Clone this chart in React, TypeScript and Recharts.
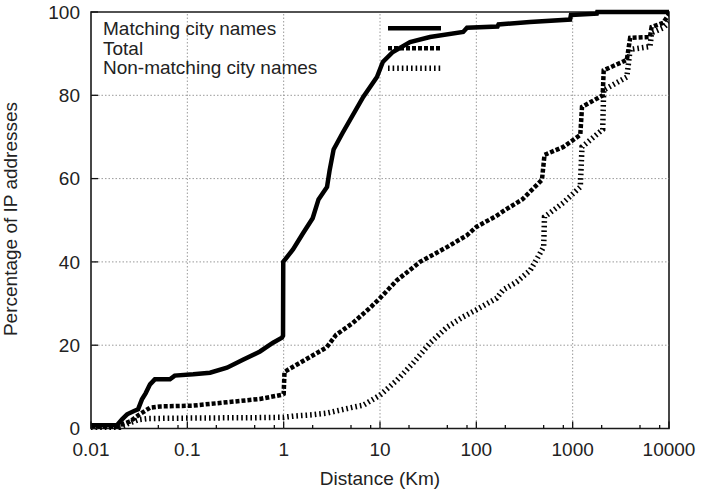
import React from "react";
import { LineChart, Line, XAxis, YAxis, ReferenceLine, ReferenceArea } from "recharts";

const FONT = "'Liberation Sans', Arial, Helvetica, sans-serif";

// Distance (Km) / percentage pairs
const matchingDist = [0.01, 0.0186, 0.021, 0.0237, 0.028, 0.0308, 0.0338, 0.037, 0.041, 0.046, 0.066, 0.074, 0.115, 0.172, 0.258, 0.378, 0.568, 0.776, 0.96, 0.985, 0.99, 1.25, 1.6, 2.0, 2.3, 2.82, 3.0, 3.3, 4.1, 6.7, 9.3, 10.7, 13.6, 20.5, 33, 73, 80, 166, 170, 360, 940, 960, 1780, 1800, 10000];
const matchingPct = [0.8, 0.8, 2.2, 3.4, 4.2, 4.6, 7.0, 8.5, 10.6, 11.8, 11.8, 12.7, 13.0, 13.4, 14.6, 16.5, 18.5, 20.6, 21.8, 22.3, 40, 43, 47, 50.5, 55, 58, 62, 67, 71, 79.6, 84.4, 88, 90.4, 92.8, 94, 95.2, 96.2, 96.5, 97, 97.6, 98.2, 99.3, 99.6, 100, 100];

const totalDist = [0.01, 0.0186, 0.021, 0.0254, 0.032, 0.041, 0.052, 0.115, 0.258, 0.568, 0.96, 1.0, 1.02, 1.48, 2.8, 3.5, 5.2, 7.9, 10, 15, 26, 50, 80, 100, 160, 200, 300, 480, 510, 800, 1200, 1250, 2050, 2100, 3650, 3950, 6350, 6600, 8700, 10000];
const totalPct = [0.5, 0.5, 1.0, 1.7, 3.4, 5.0, 5.3, 5.5, 6.3, 7.1, 8.1, 8.3, 13.6, 15.8, 19.5, 22.5, 25.3, 29, 31.3, 35.6, 40, 43.6, 46.4, 48.4, 51, 52.5, 55, 59.7, 65.7, 67.6, 70.5, 77.2, 80, 86, 88.5, 93.8, 94, 96.4, 97.4, 99.5];

const nonMatchingDist = [0.01, 0.02, 0.023, 0.027, 0.031, 0.04, 0.1, 0.5, 1.0, 1.3, 2.0, 2.8, 5.0, 6.7, 10, 15, 22, 33, 50, 73, 100, 163, 190, 263, 363, 420, 500, 510, 800, 1200, 1250, 2050, 2100, 3650, 3950, 6350, 6600, 8700, 10000];
const nonMatchingPct = [0.3, 0.3, 1.0, 1.6, 2.1, 2.4, 2.5, 2.6, 2.7, 3.0, 3.3, 3.7, 5.0, 5.6, 8.0, 11.6, 15.7, 20.5, 24.4, 26.8, 28.5, 31.3, 33.3, 35.2, 38, 40.5, 43.6, 50.8, 54.2, 58, 67.6, 71.8, 81.3, 84.4, 91, 91.7, 95, 96.2, 97.5];

const seriesNames = ["Matching city names", "Total", "Non-matching city names"];

const xMajorTicks = [0.01, 0.1, 1, 10, 100, 1000, 10000];
const xTickLabels = ["0.01", "0.1", "1", "10", "100", "1000", "10000"];
const xMinorFactors = [2, 5, 8];
const yTicks = [0, 20, 40, 60, 80, 100];
const xGrid = [0.1, 1, 10, 100, 1000];
const yGrid = [20, 40, 60, 80];

const toPoints = (xs: number[], ys: number[]) => xs.map((x, i) => ({ x, y: ys[i] }));
const matchingData = toPoints(matchingDist, matchingPct);
const totalData = toPoints(totalDist, totalPct);
const nonMatchingData = toPoints(nonMatchingDist, nonMatchingPct);

const allXTicks: number[] = [];
xMajorTicks.forEach((t, i) => {
  allXTicks.push(t);
  if (i < xMajorTicks.length - 1) xMinorFactors.forEach((f) => allXTicks.push(t * f));
});

const styles = [
  { strokeWidth: 4.5, dash: undefined as string | undefined },
  { strokeWidth: 4.5, dash: "4 2" },
  { strokeWidth: 5.5, dash: "1.6 3" },
];

const XTick = (props: any) => {
  const { x, y, payload } = props;
  const v = payload.value;
  const idx = xMajorTicks.findIndex((t) => Math.abs(t - v) / t < 1e-6);
  const major = idx >= 0;
  return (
    <g>
      <line x1={x} x2={x} y1={y} y2={y - (major ? 7 : 3.5)} stroke="#111" strokeWidth={1.3} />
      {major && (
        <text x={x} y={y + 27.5} textAnchor="middle" fontSize={19} fontFamily={FONT} fill="#222">
          {xTickLabels[idx]}
        </text>
      )}
    </g>
  );
};

const YTick = (props: any) => {
  const { x, y, payload } = props;
  return (
    <g>
      <line x1={x} x2={x + 7} y1={y} y2={y} stroke="#111" strokeWidth={1.3} />
      <text x={x - 11} y={y} dy="0.35em" textAnchor="end" fontSize={19} fontFamily={FONT} fill="#222">
        {payload.value}
      </text>
    </g>
  );
};

export default function App() {
  return (
    <div style={{ position: "absolute", left: 0, top: 0, width: 705, height: 489, background: "#fff" }}>
      <LineChart width={705} height={489} margin={{ top: 12, right: 36, bottom: 0, left: 0 }}>
        <XAxis
          dataKey="x"
          type="number"
          scale="log"
          domain={[0.01, 10000]}
          ticks={allXTicks}
          interval={0}
          allowDataOverflow
          height={60.5}
          tickSize={0}
          tickMargin={0}
          tickLine={false}
          axisLine={false}
          tick={<XTick />}
        />
        <YAxis
          type="number"
          domain={[0, 100]}
          ticks={yTicks}
          interval={0}
          width={91}
          tickSize={0}
          tickMargin={0}
          tickLine={false}
          axisLine={false}
          tick={<YTick />}
        />
        {xGrid.map((v) => (
          <ReferenceLine key={"gx" + v} x={v} stroke="#9a9a9a" strokeWidth={1} strokeDasharray="1.5 2" />
        ))}
        {yGrid.map((v) => (
          <ReferenceLine key={"gy" + v} y={v} stroke="#9a9a9a" strokeWidth={1} strokeDasharray="1.5 2" />
        ))}
        <ReferenceArea x1={0.01} x2={10000} y1={0} y2={100} fill="none" stroke="#1a1a1a" strokeWidth={1.6} />
        <Line
          data={nonMatchingData}
          dataKey="y"
          name={seriesNames[2]}
          type="linear"
          stroke="#000"
          strokeWidth={styles[2].strokeWidth}
          strokeDasharray={styles[2].dash}
          dot={false}
          isAnimationActive={false}
        />
        <Line
          data={totalData}
          dataKey="y"
          name={seriesNames[1]}
          type="linear"
          stroke="#000"
          strokeWidth={styles[1].strokeWidth}
          strokeDasharray={styles[1].dash}
          dot={false}
          isAnimationActive={false}
        />
        <Line
          data={matchingData}
          dataKey="y"
          name={seriesNames[0]}
          type="linear"
          stroke="#000"
          strokeWidth={styles[0].strokeWidth}
          dot={false}
          isAnimationActive={false}
        />
      </LineChart>
      <svg
        width={705}
        height={489}
        style={{ position: "absolute", left: 0, top: 0, pointerEvents: "none" }}
      >
        {seriesNames.map((name, i) => (
          <g key={name}>
            <text x={103} y={35 + i * 19.7} fontSize={19} fontFamily={FONT} fill="#222">
              {name}
            </text>
            <line
              x1={388}
              x2={441}
              y1={28.3 + i * 20}
              y2={28.3 + i * 20}
              stroke="#000"
              strokeWidth={styles[i].strokeWidth}
              strokeDasharray={styles[i].dash}
            />
          </g>
        ))}
        <text x={380} y={485} textAnchor="middle" fontSize={19} fontFamily={FONT} fill="#222">
          Distance (Km)
        </text>
        <text
          x={17}
          y={219}
          textAnchor="middle"
          fontSize={19}
          fontFamily={FONT}
          fill="#222"
          transform="rotate(-90 17 219)"
        >
          Percentage of IP addresses
        </text>
      </svg>
    </div>
  );
}
